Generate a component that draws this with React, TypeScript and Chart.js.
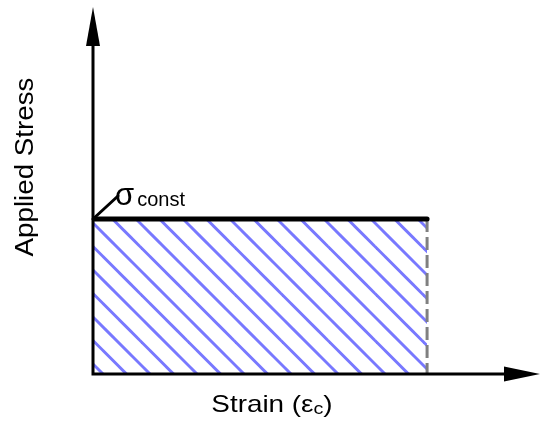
import React, { useEffect, useRef } from "react";
import { Chart, registerables } from "chart.js";

Chart.register(...registerables);

// ---- data ----
const plateauStrain = [0, 1];
const plateauStress = [1, 1];
const unloadStrain = [1, 1];
const unloadStress = [1, 0];
const yTitle = "Applied Stress";
const xTitleParts = ["Strain (", "ε", "c", ")"];
const stressLabel = ["σ", "const"];

const W = 549;
const H = 428;

function makeHatch(): CanvasPattern | string {
  const size = 47;
  const step = 23.5;
  const c = document.createElement("canvas");
  c.width = size;
  c.height = size;
  const g = c.getContext("2d");
  if (!g) return "rgba(120,120,255,0.5)";
  g.strokeStyle = "#7878ff";
  g.lineWidth = 3;
  for (let k = -4; k <= 3; k++) {
    const x0 = 11 + k * step;
    g.beginPath();
    g.moveTo(x0 - 5, -5);
    g.lineTo(x0 + size + 5, size + 5);
    g.stroke();
  }
  const p = g.createPattern(c, "repeat");
  return p || "rgba(120,120,255,0.5)";
}

const FONT = "'Liberation Sans', Arial, sans-serif";

const decorPlugin = {
  id: "decor",
  afterDatasetsDraw(chart: any) {
    const ctx: CanvasRenderingContext2D = chart.ctx;
    const xs = chart.scales.x;
    const ys = chart.scales.y;
    const area = chart.chartArea;
    const x0 = xs.getPixelForValue(0);
    const y0 = ys.getPixelForValue(0);
    ctx.save();
    // axes
    ctx.strokeStyle = "#000";
    ctx.fillStyle = "#000";
    ctx.lineWidth = 3;
    ctx.lineCap = "butt";
    ctx.beginPath();
    ctx.moveTo(x0, y0 + 1.5);
    ctx.lineTo(x0, area.top + 30);
    ctx.moveTo(x0 - 1.5, y0);
    ctx.lineTo(area.right - 30, y0);
    ctx.stroke();
    // arrow heads
    ctx.beginPath();
    ctx.moveTo(x0, area.top);
    ctx.lineTo(x0 - 7, area.top + 39);
    ctx.lineTo(x0 + 7, area.top + 39);
    ctx.closePath();
    ctx.fill();
    ctx.beginPath();
    ctx.moveTo(area.right, y0);
    ctx.lineTo(area.right - 36, y0 - 7.5);
    ctx.lineTo(area.right - 36, y0 + 7.5);
    ctx.closePath();
    ctx.fill();

    // sigma leader + label
    const px = xs.getPixelForValue(plateauStrain[0]);
    const py = ys.getPixelForValue(plateauStress[0]);
    ctx.lineWidth = 3;
    ctx.lineCap = "round";
    ctx.beginPath();
    ctx.moveTo(px, py);
    ctx.lineTo(px + 25, py - 23);
    ctx.stroke();
    ctx.textBaseline = "alphabetic";
    ctx.textAlign = "left";
    ctx.font = "31px " + FONT;
    ctx.fillText(stressLabel[0], px + 22, py - 14);
    const sw = ctx.measureText(stressLabel[0]).width;
    ctx.font = "20px " + FONT;
    ctx.fillText(stressLabel[1], px + 22 + sw + 3, py - 13);

    // y title (slightly stretched along its length)
    ctx.save();
    ctx.translate(33, 167);
    ctx.rotate(-Math.PI / 2);
    ctx.scale(1.11, 1);
    ctx.textAlign = "center";
    ctx.font = "25px " + FONT;
    ctx.fillText(yTitle, 0, 0);
    ctx.restore();

    // x title
    const big = "24px " + FONT;
    const small = "17px " + FONT;
    const sx = 1.16;
    ctx.font = big;
    const w0 = ctx.measureText(xTitleParts[0]).width;
    const w1 = ctx.measureText(xTitleParts[1]).width;
    const w3 = ctx.measureText(xTitleParts[3]).width;
    ctx.font = small;
    const w2 = ctx.measureText(xTitleParts[2]).width;
    const total = (w0 + w1 + w2 + w3) * sx;
    ctx.save();
    ctx.translate(272 - total / 2, y0 + 38);
    ctx.scale(sx, 1);
    let tx = 0;
    ctx.textAlign = "left";
    ctx.font = big;
    ctx.fillText(xTitleParts[0], tx, 0);
    tx += w0;
    ctx.fillText(xTitleParts[1], tx, 0);
    tx += w1;
    ctx.font = small;
    ctx.fillText(xTitleParts[2], tx, 2);
    tx += w2;
    ctx.font = big;
    ctx.fillText(xTitleParts[3], tx, 0);
    ctx.restore();
    ctx.restore();
  },
};

export default function App() {
  const ref = useRef<HTMLCanvasElement | null>(null);
  useEffect(() => {
    document.body.style.margin = "0";
    const canvas = ref.current;
    if (!canvas) return;
    const pts = (xs: number[], ys: number[]) => xs.map((x, i) => ({ x, y: ys[i] }));
    const chart = new Chart(canvas, {
      type: "scatter",
      data: {
        datasets: [
          {
            data: pts(plateauStrain, plateauStress),
            showLine: true,
            borderColor: "#000",
            borderWidth: 5,
            borderCapStyle: "round",
            pointRadius: 0,
            fill: false,
          } as any,
          {
            data: pts(unloadStrain, unloadStress),
            showLine: true,
            borderColor: "#808080",
            borderWidth: 3,
            borderDash: [13, 5],
            pointRadius: 0,
            fill: false,
          } as any,
          {
            data: pts(plateauStrain, plateauStress),
            showLine: true,
            borderWidth: 0,
            borderColor: "rgba(0,0,0,0)",
            backgroundColor: makeHatch(),
            pointRadius: 0,
            fill: "origin",
          } as any,
        ],
      },
      options: {
        responsive: false,
        animation: false,
        layout: { padding: { left: 93, right: 9, top: 7, bottom: 54 } },
        plugins: { legend: { display: false }, tooltip: { enabled: false } },
        scales: {
          x: { type: "linear", display: false, min: 0, max: 1.338 },
          y: { type: "linear", display: false, min: 0, max: 2.368 },
        },
      },
      plugins: [decorPlugin],
    });
    return () => chart.destroy();
  }, []);
  return (
    <div style={{ width: W, height: H }}>
      <canvas ref={ref} width={W} height={H} style={{ display: "block" }} />
    </div>
  );
}
